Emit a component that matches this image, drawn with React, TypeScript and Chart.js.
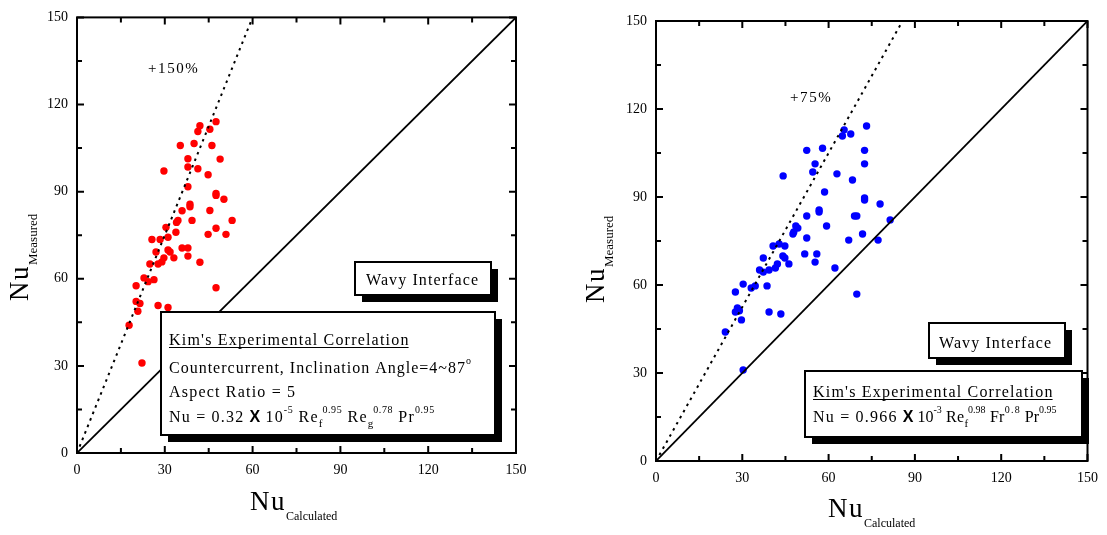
import React, { useEffect, useRef } from 'react';
import { Chart, registerables } from 'chart.js';

Chart.register(...registerables);

// ---------- data ----------
const tickValues = [0, 30, 60, 90, 120, 150];
const minorTickValues = [15, 45, 75, 105, 135];

// left panel (+150 %): calculated vs measured Nu
const calculatedLeft = [
  47.5, 42.0, 41.3, 45.4, 35.3, 40.0, 46.1, 37.9, 48.9, 37.9, 41.3, 29.7, 44.8, 37.9, 47.5, 47.5,
  50.2, 38.6, 38.6, 45.4, 35.9, 53.0, 39.3, 34.5, 34.0, 33.8, 30.4, 47.5, 44.8, 50.9, 31.1, 25.6,
  28.4, 27.0, 31.1, 31.8, 35.9, 37.9, 33.1, 37.9, 29.7, 29.0, 27.7, 24.9, 42.0, 22.9, 26.3, 24.3,
  20.2, 47.5, 20.2, 21.5, 20.8, 27.7, 31.1, 17.8, 22.2,
];
const measuredLeft = [
  114.1, 112.7, 110.7, 111.5, 105.9, 106.6, 105.9, 101.3, 101.2, 98.5, 97.9, 97.1, 95.8, 91.7, 89.4, 88.7,
  87.4, 85.7, 84.8, 83.5, 83.4, 80.1, 80.1, 80.1, 79.4, 76.0, 77.7, 77.4, 75.3, 75.3, 74.3, 73.5,
  73.5, 69.2, 69.9, 69.2, 70.6, 70.6, 67.2, 67.8, 67.2, 65.8, 65.1, 65.1, 65.7, 60.3, 59.7, 59.0,
  57.6, 56.9, 52.2, 51.5, 48.8, 50.8, 50.1, 44.0, 31.0,
];

// right panel (+75 %)
const calculatedRight = [
  73.2, 65.4, 64.8, 67.7, 52.4, 57.9, 72.5, 55.3, 72.5, 54.5, 62.9, 44.2, 68.3, 58.6, 72.5, 72.5,
  77.9, 56.7, 56.7, 52.4, 69.0, 69.8, 81.4, 59.3, 48.6, 49.3, 47.9, 47.6, 52.4, 67.0, 71.8, 77.2,
  40.7, 42.8, 44.8, 51.7, 55.9, 37.3, 44.1, 44.8, 55.3, 46.2, 42.2, 41.5, 39.3, 36.0, 37.3, 62.2,
  30.3, 34.5, 33.1, 38.6, 27.6, 69.8, 28.3, 29.0, 27.6, 29.7, 39.3, 43.4, 24.1, 30.3,
];
const measuredRight = [
  114.2, 112.9, 110.8, 111.5, 105.9, 106.6, 105.9, 101.3, 101.3, 98.5, 97.9, 97.2, 95.8, 91.7, 89.7, 89.0,
  87.6, 85.6, 84.9, 83.5, 83.5, 83.5, 82.2, 80.1, 80.1, 79.4, 78.1, 77.4, 76.0, 75.3, 77.4, 75.3,
  73.3, 74.0, 73.3, 70.6, 70.6, 69.2, 69.9, 69.2, 67.8, 67.2, 67.2, 65.8, 65.1, 65.1, 64.4, 65.8,
  60.3, 59.7, 59.0, 59.7, 57.6, 56.9, 52.2, 51.2, 50.8, 48.1, 50.8, 50.1, 44.0, 31.0,
];

// reference lines
const parityX = [0, 150];
const parityY = [0, 150];
const band150X = [0, 60];
const band150Y = [0, 150];
const band75X = [0, 85.7];
const band75Y = [0, 150];

const SERIF = '"Liberation Serif", "Times New Roman", serif';

type Seg = { t: string; k?: 'sup' | 'sub' | 'x'; sp?: number };

function drawRich(ctx: CanvasRenderingContext2D, x: number, y: number, segs: Seg[], size: number, spacing: number) {
  let cx = x;
  ctx.textBaseline = 'alphabetic';
  ctx.textAlign = 'left';
  for (const s of segs) {
    let font = `${size}px ${SERIF}`;
    let dy = 0;
    let sp = s.sp !== undefined ? s.sp : spacing;
    if (s.k === 'sup') { font = `10px ${SERIF}`; dy = -9; sp = s.sp !== undefined ? s.sp : 0.6; }
    if (s.k === 'sub') { font = `11px ${SERIF}`; dy = 5; sp = 0; }
    if (s.k === 'x') { font = `bold ${size}px "Liberation Sans", Arial, sans-serif`; sp = 0; }
    ctx.font = font;
    (ctx as any).letterSpacing = sp + 'px';
    ctx.fillText(s.t, cx, y + dy);
    cx += ctx.measureText(s.t).width;
  }
  (ctx as any).letterSpacing = '0px';
  return cx;
}

function drawBox(ctx: CanvasRenderingContext2D, x: number, y: number, w: number, h: number, off: number) {
  ctx.fillStyle = '#000';
  ctx.fillRect(x + off, y + off, w, h);
  ctx.fillStyle = '#fff';
  ctx.fillRect(x, y, w, h);
  ctx.lineWidth = 2;
  ctx.strokeStyle = '#000';
  ctx.strokeRect(x, y, w, h);
  ctx.fillStyle = '#000';
}

type PanelCfg = {
  offsetX: number;
  canvasW: number;
  padTop: number;
  padRight: number;
  yAxisW: number;
  xAxisH: number;
  xs: number[];
  ys: number[];
  color: string;
  bandX: number[];
  bandY: number[];
  annotate: (ctx: CanvasRenderingContext2D) => void;
};

function makeDecoPlugin(cfg: PanelCfg) {
  return {
    id: 'deco',
    afterDraw(chart: any) {
      const ctx: CanvasRenderingContext2D = chart.ctx;
      const a = chart.chartArea;
      const xs = chart.scales.x;
      const ys = chart.scales.y;
      ctx.save();
      ctx.strokeStyle = '#000';
      ctx.lineWidth = 2;
      ctx.strokeRect(a.left, a.top, a.right - a.left, a.bottom - a.top);
      const tick = (v: number, len: number) => {
        const px = xs.getPixelForValue(v);
        const py = ys.getPixelForValue(v);
        ctx.beginPath();
        ctx.moveTo(px, a.bottom); ctx.lineTo(px, a.bottom - len);
        ctx.moveTo(px, a.top); ctx.lineTo(px, a.top + len);
        ctx.moveTo(a.left, py); ctx.lineTo(a.left + len, py);
        ctx.moveTo(a.right, py); ctx.lineTo(a.right - len, py);
        ctx.stroke();
      };
      tickValues.forEach((v) => tick(v, 7));
      minorTickValues.forEach((v) => tick(v, 5));
      ctx.translate(-cfg.offsetX, 0);
      ctx.fillStyle = '#000';
      cfg.annotate(ctx);
      ctx.restore();
    },
  };
}

function drawYTitle(ctx: CanvasRenderingContext2D, baseX: number, startY: number) {
  ctx.save();
  ctx.translate(baseX, startY);
  ctx.rotate(-Math.PI / 2);
  ctx.font = `27px ${SERIF}`;
  (ctx as any).letterSpacing = '1.5px';
  ctx.textBaseline = 'alphabetic';
  ctx.textAlign = 'left';
  ctx.fillText('Nu', 0, 0);
  const w = ctx.measureText('Nu').width;
  ctx.font = `13px ${SERIF}`;
  (ctx as any).letterSpacing = '0px';
  ctx.fillText('Measured', w, 9);
  ctx.restore();
}

function drawXTitle(ctx: CanvasRenderingContext2D, x: number, baseY: number) {
  ctx.save();
  ctx.font = `27px ${SERIF}`;
  (ctx as any).letterSpacing = '1.5px';
  ctx.textBaseline = 'alphabetic';
  ctx.textAlign = 'left';
  ctx.fillText('Nu', x, baseY);
  const w = ctx.measureText('Nu').width;
  ctx.font = `12px ${SERIF}`;
  (ctx as any).letterSpacing = '0px';
  ctx.fillText('Calculated', x + w, baseY + 10);
  ctx.restore();
}

function plainText(ctx: CanvasRenderingContext2D, t: string, x: number, y: number, size: number, spacing: number) {
  ctx.font = `${size}px ${SERIF}`;
  (ctx as any).letterSpacing = spacing + 'px';
  ctx.textAlign = 'left';
  ctx.textBaseline = 'alphabetic';
  ctx.fillText(t, x, y);
  const w = ctx.measureText(t).width;
  (ctx as any).letterSpacing = '0px';
  return w;
}

function underlined(ctx: CanvasRenderingContext2D, t: string, x: number, y: number) {
  const w = plainText(ctx, t, x, y, 16, 1.2);
  ctx.lineWidth = 1;
  ctx.beginPath();
  ctx.moveTo(x, y + 2.5);
  ctx.lineTo(x + w - 1, y + 2.5);
  ctx.stroke();
}

const leftCfg: PanelCfg = {
  offsetX: 0,
  canvasW: 550,
  padTop: 13,
  padRight: 34,
  yAxisW: 77,
  xAxisH: 82,
  xs: calculatedLeft,
  ys: measuredLeft,
  color: '#ff0000',
  bandX: band150X,
  bandY: band150Y,
  annotate: (ctx) => {
    plainText(ctx, '+150%', 148, 73, 15, 1.6);
    drawBox(ctx, 355, 262, 136, 33, 7);
    plainText(ctx, 'Wavy Interface', 366, 285, 16, 1.1);
    drawBox(ctx, 161, 312, 334, 123, 7);
    underlined(ctx, "Kim's Experimental Correlation", 169, 345);
    const e = drawRich(ctx, 169, 373, [{ t: 'Countercurrent, Inclination Angle=4~87' }], 16, 1.0);
    drawRich(ctx, e, 373, [{ t: 'o', k: 'sup' }], 16, 1.0);
    plainText(ctx, 'Aspect Ratio = 5', 169, 397, 16, 1.2);
    drawRich(ctx, 169, 422, [
      { t: 'Nu = 0.32 ' }, { t: 'X', k: 'x' }, { t: ' 10' }, { t: '-5', k: 'sup' },
      { t: ' Re' }, { t: 'f', k: 'sub' }, { t: '0.95', k: 'sup' },
      { t: ' Re' }, { t: 'g', k: 'sub' }, { t: '0.78', k: 'sup' },
      { t: ' Pr' }, { t: '0.95', k: 'sup' },
    ], 16, 1.2);
    drawYTitle(ctx, 28, 301);
    drawXTitle(ctx, 250, 510);
  },
};

const rightCfg: PanelCfg = {
  offsetX: 550,
  canvasW: 557,
  padTop: 21,
  padRight: 16,
  yAxisW: 106,
  xAxisH: 74,
  xs: calculatedRight,
  ys: measuredRight,
  color: '#0000ff',
  bandX: band75X,
  bandY: band75Y,
  annotate: (ctx) => {
    plainText(ctx, '+75%', 790, 102, 15, 1.6);
    drawBox(ctx, 929, 323, 136, 35, 7);
    plainText(ctx, 'Wavy Interface', 939, 348, 16, 1.1);
    drawBox(ctx, 805, 371, 277, 66, 7);
    underlined(ctx, "Kim's Experimental Correlation", 813, 397);
    drawRich(ctx, 813, 422, [
      { t: 'Nu = 0.966 ' }, { t: 'X', k: 'x' }, { t: ' 10', sp: 0 }, { t: '-3', k: 'sup', sp: 0 },
      { t: ' Re', sp: 0.3 }, { t: 'f', k: 'sub' }, { t: '0.98', k: 'sup', sp: 0 },
      { t: ' Fr', sp: 0.3 }, { t: '0.8', k: 'sup', sp: 1.2 },
      { t: ' Pr', sp: 0 }, { t: '0.95', k: 'sup', sp: 0 },
    ], 16, 1.2);
    drawYTitle(ctx, 604, 303);
    drawXTitle(ctx, 828, 517);
  },
};

function Panel({ cfg }: { cfg: PanelCfg }) {
  const ref = useRef<HTMLCanvasElement | null>(null);
  useEffect(() => {
    if (!ref.current) return;
    const pts = cfg.xs.map((x, i) => ({ x, y: cfg.ys[i] }));
    const parity = parityX.map((x, i) => ({ x, y: parityY[i] }));
    const band = cfg.bandX.map((x, i) => ({ x, y: cfg.bandY[i] }));
    const tickFont = { family: SERIF, size: 14 };
    const chart = new Chart(ref.current, {
      type: 'scatter',
      data: {
        datasets: [
          { data: parity, showLine: true, borderColor: '#000', borderWidth: 1.8, pointRadius: 0, order: 0 } as any,
          { data: band, showLine: true, borderColor: '#000', borderWidth: 2, borderDash: [2.5, 4.5], pointRadius: 0, order: 0 } as any,
          { data: pts, backgroundColor: cfg.color, borderWidth: 0, pointRadius: 3.7, order: 1 } as any,
        ],
      },
      options: {
        responsive: false,
        animation: false,
        layout: { padding: { left: 0, top: cfg.padTop, right: cfg.padRight, bottom: 0 } },
        plugins: { legend: { display: false }, tooltip: { enabled: false } },
        scales: {
          x: {
            type: 'linear', min: 0, max: 150,
            afterFit: (s: any) => { s.height = cfg.xAxisH; },
            afterBuildTicks: (s: any) => { s.ticks = tickValues.map((v) => ({ value: v })); },
            grid: { display: false, drawTicks: false },
            border: { display: false },
            ticks: { font: tickFont, color: '#000', padding: 9, maxRotation: 0 },
          },
          y: {
            type: 'linear', min: 0, max: 150,
            afterFit: (s: any) => { s.width = cfg.yAxisW; },
            afterBuildTicks: (s: any) => { s.ticks = tickValues.map((v) => ({ value: v })); },
            grid: { display: false, drawTicks: false },
            border: { display: false },
            ticks: { font: tickFont, color: '#000', padding: 9 },
          },
        },
      } as any,
      plugins: [makeDecoPlugin(cfg)],
    });
    return () => chart.destroy();
  }, [cfg]);
  return (
    <canvas
      ref={ref}
      width={cfg.canvasW}
      height={535}
      style={{ position: 'absolute', left: cfg.offsetX, top: 0, width: cfg.canvasW, height: 535 }}
    />
  );
}

export default function App() {
  return (
    <div style={{ position: 'absolute', left: 0, top: 0, width: 1107, height: 535, background: '#fff' }}>
      <Panel cfg={leftCfg} />
      <Panel cfg={rightCfg} />
    </div>
  );
}
